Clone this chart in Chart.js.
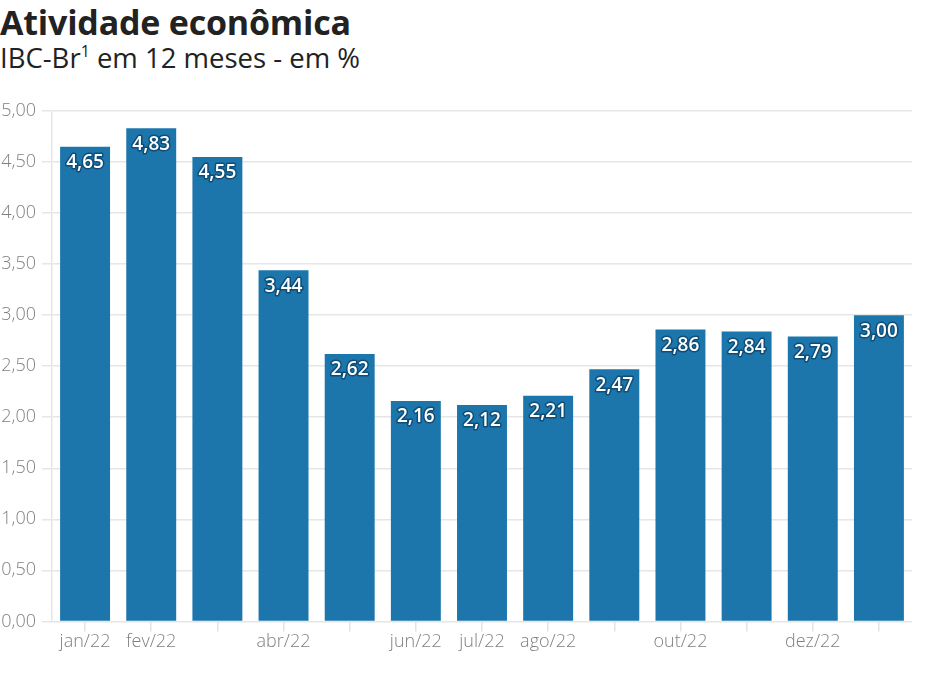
<!DOCTYPE html>
<html lang="pt-BR">
<head>
<meta charset="utf-8">
<script src="https://cdn.jsdelivr.net/npm/chart.js@4/dist/chart.umd.min.js"></script>
<style>
    html, body {
        margin: 0;
        padding: 0;
        background: #ffffff;
        font-family: 'Open Sans', sans-serif;
    }

    .wrap {
        position: relative;
        width: 926px;
        height: 679px;
        overflow: hidden;
    }

    .title {
        position: absolute;
        left: 0;
        top: 0;
        margin: 0;
        font-size: 34px;
        font-weight: 700;
        color: #222222;
        line-height: 44px;
        letter-spacing: -0.2px;
    }

    .subtitle {
        position: absolute;
        left: 0;
        top: 40px;
        margin: 0;
        font-size: 27.5px;
        font-weight: 400;
        color: #222222;
        line-height: 36px;
    }

    .subtitle sup {
        font-size: 16px;
        vertical-align: 0;
        position: relative;
        top: -11px;
    }

    .chart-box {
        position: absolute;
        left: 0;
        top: 86px;
        width: 926px;
        height: 593px;
    }
</style>
</head>
<body>
<div class="wrap">
    <h1 class="title">Atividade econômica</h1>
    <p class="subtitle">IBC-Br<sup>1</sup> em 12 meses - em %</p>
    <div class="chart-box">
        <canvas id="chart" width="926" height="593"></canvas>
    </div>
</div>
<script>
const months = ['jan/22', 'fev/22', 'mar/22', 'abr/22', 'mai/22', 'jun/22', 'jul/22',
    'ago/22', 'set/22', 'out/22', 'nov/22', 'dez/22', 'jan/23'];
const tickLabels = ['jan/22', 'fev/22', '', 'abr/22', '', 'jun/22', 'jul/22',
    'ago/22', '', 'out/22', '', 'dez/22', ''];
const ibcValues = [4.65, 4.83, 4.55, 3.44, 2.62, 2.16, 2.12, 2.21, 2.47, 2.86, 2.84, 2.79, 3.00];
const yTicks = [0, 0.5, 1, 1.5, 2, 2.5, 3, 3.5, 4, 4.5, 5];

function formatBr(value) {
    return value.toFixed(2).replace('.', ',');
}

// rótulos brancos no topo de cada barra
const barLabels = {
    id: 'barLabels',
    afterDatasetsDraw(chart) {
        const ctx = chart.ctx;
        const meta = chart.getDatasetMeta(0);
        ctx.save();
        ctx.font = '600 19px "Open Sans"';
        ctx.textAlign = 'center';
        ctx.textBaseline = 'middle';
        ctx.lineJoin = 'round';
        meta.data.forEach((bar, i) => {
            const text = formatBr(ibcValues[i]);
            const y = bar.y + 16;
            ctx.lineWidth = 3;
            ctx.strokeStyle = 'rgba(12, 70, 110, 0.85)';
            ctx.strokeText(text, bar.x, y);
            ctx.fillStyle = '#ffffff';
            ctx.fillText(text, bar.x, y);
        });
        ctx.restore();
    },
};

const canvas = document.getElementById('chart');

new Chart(canvas.getContext('2d'), {
    type: 'bar',
    data: {
        labels: months,
        datasets: [
            {
                label: 'IBC-Br',
                data: ibcValues,
                backgroundColor: '#1c76ac',
                borderWidth: 0,
                categoryPercentage: 1,
                barPercentage: 0.755,
            },
        ],
    },
    options: {
        responsive: false,
        animation: false,
        layout: {
            padding: {
                top: 25,
                right: 14,
                bottom: 26,
                left: 0,
            },
        },
        plugins: {
            legend: false,
            tooltip: false,
        },
        scales: {
            x: {
                grid: {
                    display: true,
                    offset: false,
                    drawOnChartArea: false,
                    drawTicks: true,
                    tickLength: 10,
                    color: '#e3e3e3',
                    lineWidth: 1.5,
                },
                border: {
                    display: false,
                },
                ticks: {
                    autoSkip: false,
                    maxRotation: 0,
                    padding: 0,
                    color: '#808080',
                    font: {
                        family: 'Open Sans',
                        size: 18,
                        weight: 300,
                    },
                    callback(value, index) {
                        return tickLabels[index];
                    },
                },
            },
            y: {
                min: 0,
                max: 5,
                afterBuildTicks(axis) {
                    axis.ticks = yTicks.map((v) => ({ value: v }));
                },
                afterFit(axis) {
                    axis.width = 52;
                },
                grid: {
                    color: '#e6e6e6',
                    lineWidth: 1.5,
                    tickLength: 10,
                },
                border: {
                    display: true,
                    color: '#e6e6e6',
                    width: 1.5,
                },
                ticks: {
                    padding: 6,
                    color: '#808080',
                    font: {
                        family: 'Open Sans',
                        size: 18,
                        weight: 300,
                    },
                    callback(value) {
                        return formatBr(value);
                    },
                },
            },
        },
    },
    plugins: [barLabels],
});
</script>
</body>
</html>
